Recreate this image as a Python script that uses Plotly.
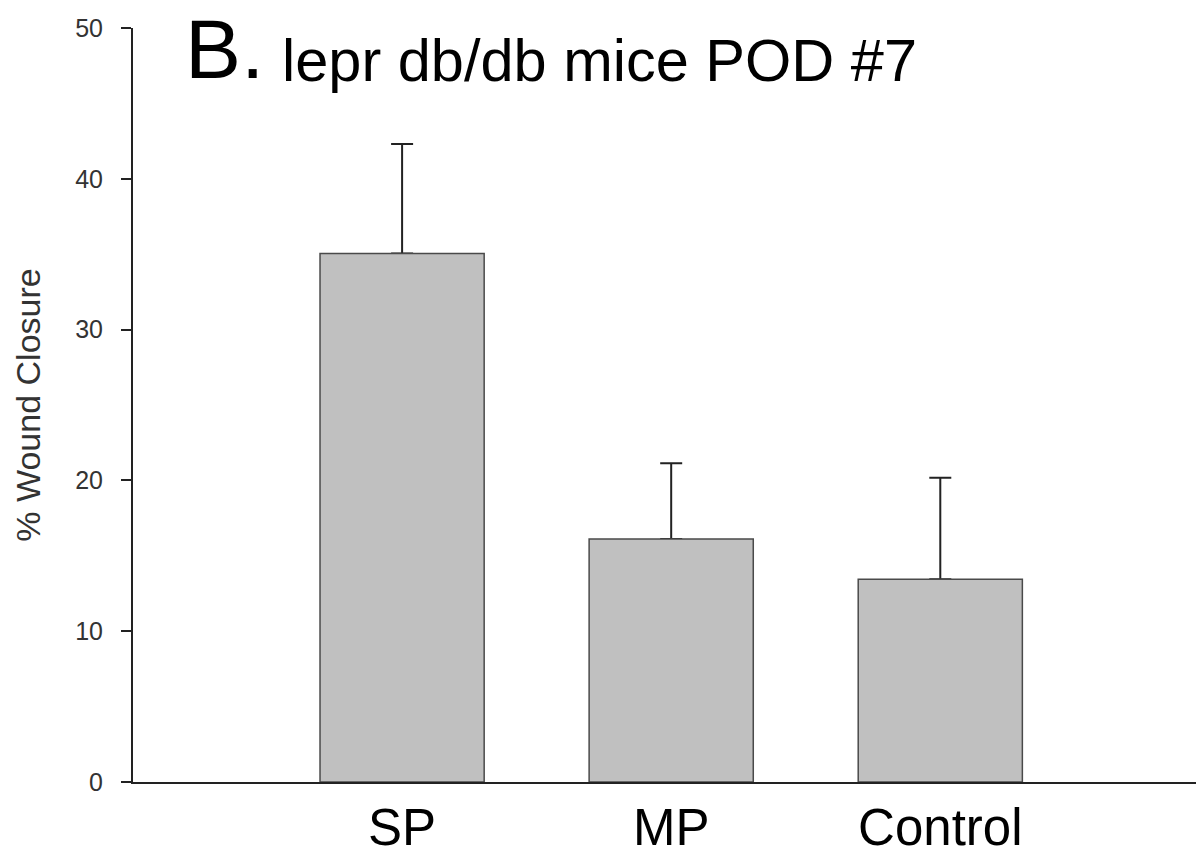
import plotly.graph_objects as go

categories = ["SP", "MP", "Control"]
means = [35.05, 16.12, 13.45]
errors_upper = [7.25, 5.01, 6.72]
y_ticks = [0, 10, 20, 30, 40, 50]

FONT = "Arial, Liberation Sans, Helvetica, sans-serif"

fig = go.Figure()
# error bars (drawn first, so the visible bars hide the lower cap)
fig.add_trace(go.Bar(
    x=[0, 1, 2],
    y=means,
    width=0.61,
    marker=dict(color="rgba(0,0,0,0)", line=dict(width=0)),
    error_y=dict(type="data", array=errors_upper, arrayminus=[0, 0, 0],
                 symmetric=False, thickness=2, width=11, color="#222222"),
    showlegend=False, hoverinfo="skip",
))
fig.add_trace(go.Bar(
    x=[0, 1, 2],
    y=means,
    width=0.61,
    marker=dict(color="#c0c0c0", line=dict(color="#4a4a4a", width=1.5)),
    showlegend=False,
))

fig.update_layout(
    width=1196, height=846,
    barmode="overlay",
    margin=dict(l=125, r=0, t=20, b=72, autoexpand=False),
    paper_bgcolor="white", plot_bgcolor="white",
    font=dict(family=FONT, color="black"),
    xaxis=dict(
        range=[-1, 2.98], tickmode="array", tickvals=[0, 1, 2], ticktext=categories,
        showline=True, linecolor="#222222", linewidth=2, ticks="",
        showgrid=False, zeroline=False, tickfont=dict(size=51, color="black"),
        ticklabelstandoff=0,
    ),
    yaxis=dict(
        range=[0, 50], tickmode="array", tickvals=y_ticks,
        showline=True, linecolor="#222222", linewidth=2,
        ticks="outside", ticklen=10, tickwidth=1.5, tickcolor="#222222",
        showgrid=False, zeroline=False, tickfont=dict(size=25, color="#333333"),
        ticklabelstandoff=13,
        title=dict(text="% Wound Closure", font=dict(size=34, color="#333333"), standoff=24),
    ),
    annotations=[
        dict(text="B.", xref="paper", yref="paper", x=(183 - 133) / 1071, y=0.972,
             xanchor="left", yanchor="middle", showarrow=False,
             font=dict(size=84, color="black", family=FONT)),
        dict(text="lepr db/db mice POD #7", xref="paper", yref="paper", x=(280 - 133) / 1071, y=0.9567,
             xanchor="left", yanchor="middle", showarrow=False,
             font=dict(size=59.5, color="black", family=FONT)),
    ],
)

fig.write_html("out.html")
